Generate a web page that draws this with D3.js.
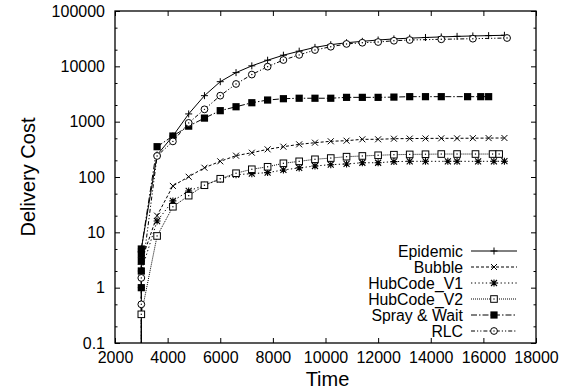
<!DOCTYPE html>
<html>
<head>
<meta charset="utf-8">
<script src="https://cdn.jsdelivr.net/npm/d3@7"></script>
<style>
  body { margin: 0; background: #fff; }
  svg { display: block; font-family: "Liberation Sans", Arial, sans-serif; }
</style>
</head>
<body>
<div id="chart"></div>
<script>
// Delivery cost over time, log scale, six routing schemes.

const epidemicTime = [3000, 3000, 3000, 3600, 4200, 4800, 5400, 6000, 6600, 7200, 7800, 8400, 9000, 9600, 10200, 10800, 11400, 12000, 12600, 13200, 13800, 14400, 15000, 15600, 16200, 16800];
const epidemicCost = [0.01, 1, 5, 250, 550, 1380, 2950, 5280, 7700, 10200, 12900, 15900, 18800, 22000, 24600, 26700, 28300, 29900, 31300, 32300, 33200, 34000, 34800, 35400, 35900, 36400];

const bubbleTime = [3000, 3000, 3600, 4200, 4800, 5400, 6000, 6600, 7200, 7800, 8400, 9000, 9600, 10200, 10800, 11400, 12000, 12600, 13200, 13800, 14400, 15000, 15600, 16200, 16800];
const bubbleCost = [0.01, 3, 20, 69, 101, 147, 192, 243, 275, 316, 353, 389, 417, 442, 453, 480, 480, 492, 495, 498, 500, 500, 503, 505, 507];

const hub1Time = [3000, 3000, 3600, 4200, 4800, 5400, 6000, 6600, 7200, 7800, 8400, 9000, 9600, 10200, 10800, 11400, 12000, 12600, 13200, 13800, 14650, 15000, 15800, 16400, 16800];
const hub1Cost = [0.01, 2, 16, 37, 56, 71, 91, 110, 115, 120, 134, 146, 158, 167, 172, 181, 181, 190, 192, 192, 192, 192, 192, 192, 193];

const hub2Time = [3000, 3000, 3600, 4200, 4800, 5400, 6000, 6600, 7200, 7800, 8400, 9000, 9600, 10200, 10800, 11400, 12000, 12600, 13200, 13800, 14400, 15000, 15700, 16350, 16600];
const hub2Cost = [0.01, 0.33, 8.6, 29, 46, 71, 93, 117, 138, 153, 177, 192, 209, 220, 233, 240, 247, 253, 256, 258, 260, 260, 260, 260, 260];

const sprayTime = [3000, 3000, 3000, 3000, 3000, 3000, 3600, 4200, 4800, 5400, 6000, 6600, 7200, 7800, 8400, 9000, 9600, 10200, 10800, 11400, 12000, 12600, 13200, 13800, 14400, 15400, 15900, 16200];
const sprayCost = [0.01, 1, 2, 3, 4, 5, 353, 550, 830, 1160, 1580, 1860, 2200, 2460, 2600, 2650, 2650, 2650, 2750, 2750, 2750, 2780, 2830, 2830, 2830, 2830, 2830, 2830];

const rlcTime = [3000, 3000, 3000, 3600, 4200, 4800, 5400, 6000, 6600, 7200, 7800, 8400, 9000, 9600, 10200, 10800, 11400, 12000, 12600, 13200, 14400, 15600, 16900];
const rlcCost = [0.01, 0.5, 1.5, 240, 440, 950, 1670, 2950, 4800, 7100, 9860, 13000, 16100, 19700, 22600, 25400, 26700, 27500, 29000, 29900, 30800, 31600, 32500];

const xTicks = [2000, 4000, 6000, 8000, 10000, 12000, 14000, 16000, 18000];
const yTicks = [0.1, 1, 10, 100, 1000, 10000, 100000];

const seriesNames = ["Epidemic", "Bubble", "HubCode_V1", "HubCode_V2", "Spray & Wait", "RLC"];

const W = 566, H = 389;
const margin = { top: 11, right: 30, bottom: 46, left: 115 };
const iw = W - margin.left - margin.right;
const ih = H - margin.top - margin.bottom;

const x = d3.scaleLinear().domain([2000, 18000]).range([0, iw]);
const y = d3.scaleLog().domain([0.1, 100000]).range([ih, 0]);

const series = [
  { name: seriesNames[0], t: epidemicTime, v: epidemicCost, dash: null, mark: "plus" },
  { name: seriesNames[1], t: bubbleTime, v: bubbleCost, dash: "3,2", mark: "cross" },
  { name: seriesNames[2], t: hub1Time, v: hub1Cost, dash: "1.3,2.4", mark: "star" },
  { name: seriesNames[3], t: hub2Time, v: hub2Cost, dash: "1,1", mark: "box" },
  { name: seriesNames[4], t: sprayTime, v: sprayCost, dash: "6,2,1.5,2", mark: "fbox" },
  { name: seriesNames[5], t: rlcTime, v: rlcCost, dash: "4,2,1.2,2,1.2,2", mark: "circle" }
];

const svg = d3.select("#chart").append("svg").attr("width", W).attr("height", H);
const g = svg.append("g").attr("transform", `translate(${margin.left},${margin.top})`);

svg.append("defs").append("clipPath").attr("id", "plotclip")
  .append("rect").attr("width", iw).attr("height", ih);

// draw a marker of a given kind into selection at (0,0)
function drawMark(sel, kind) {
  const s = 3.5;
  if (kind === "plus") {
    sel.append("path").attr("d", `M${-s},0H${s}M0,${-s}V${s}`)
      .attr("stroke", "#000").attr("stroke-width", 1).attr("fill", "none");
  } else if (kind === "cross") {
    sel.append("path").attr("d", `M${-3},${-3}L3,3M${-3},3L3,${-3}`)
      .attr("stroke", "#000").attr("stroke-width", 1).attr("fill", "none");
  } else if (kind === "star") {
    sel.append("path").attr("d", `M-3,-3L3,3M-3,3L3,-3M-3.5,0H3.5M0,-3.5V3.5`)
      .attr("stroke", "#000").attr("stroke-width", 1.1).attr("fill", "none");
  } else if (kind === "box") {
    sel.append("rect").attr("x", -3.3).attr("y", -3.3).attr("width", 6.6).attr("height", 6.6)
      .attr("fill", "#fff").attr("stroke", "#000").attr("stroke-width", 1);
    sel.append("rect").attr("x", -0.6).attr("y", -0.6).attr("width", 1.2).attr("height", 1.2).attr("fill", "#000");
  } else if (kind === "fbox") {
    sel.append("rect").attr("x", -3.6).attr("y", -3.6).attr("width", 7.2).attr("height", 7.2)
      .attr("fill", "#000");
  } else if (kind === "circle") {
    sel.append("circle").attr("r", 3.4).attr("fill", "#fff").attr("stroke", "#000").attr("stroke-width", 1);
    sel.append("circle").attr("r", 0.7).attr("fill", "#000");
  }
}

// axes (gnuplot style: ticks inside, mirrored)
const tickFont = "16px";
const minorVals = [];
yTicks.slice(0, -1).forEach(v => { minorVals.push(v * 2, v * 5); });

g.append("g").attr("transform", `translate(0,${ih})`)
  .call(d3.axisBottom(x).tickValues(xTicks).tickSize(-5).tickPadding(9).tickFormat(d3.format("d")))
  .call(a => a.select(".domain").remove())
  .call(a => a.selectAll("text").attr("font-size", tickFont).attr("fill", "#000").attr("font-family", "Liberation Sans, Arial, sans-serif"));

g.append("g")
  .call(d3.axisTop(x).tickValues(xTicks).tickSize(-5).tickFormat(""))
  .call(a => a.select(".domain").remove());

g.append("g")
  .call(d3.axisLeft(y).tickValues(yTicks).tickSize(-5).tickPadding(10).tickFormat(d => d3.format("~g")(d)))
  .call(a => a.select(".domain").remove())
  .call(a => a.selectAll("text").attr("font-size", tickFont).attr("fill", "#000").attr("font-family", "Liberation Sans, Arial, sans-serif"));

g.append("g")
  .call(d3.axisLeft(y).tickValues(minorVals).tickSize(-2.5).tickFormat(""))
  .call(a => a.select(".domain").remove());

g.append("g").attr("transform", `translate(${iw},0)`)
  .call(d3.axisRight(y).tickValues(yTicks).tickSize(-5).tickFormat(""))
  .call(a => a.select(".domain").remove());

g.append("g").attr("transform", `translate(${iw},0)`)
  .call(d3.axisRight(y).tickValues(minorVals).tickSize(-2.5).tickFormat(""))
  .call(a => a.select(".domain").remove());

g.selectAll(".tick line").attr("stroke", "#000").attr("stroke-width", 1);

// data
const plot = g.append("g").attr("clip-path", "url(#plotclip)");
const line = d3.line().x(d => x(d[0])).y(d => y(d[1]));

series.forEach(s => {
  const pts = s.t.map((t, i) => [t, s.v[i]]);
  plot.append("path")
    .datum(pts)
    .attr("d", line)
    .attr("fill", "none")
    .attr("stroke", "#000")
    .attr("stroke-width", 1)
    .attr("stroke-dasharray", s.dash);
});

series.forEach(s => {
  const pts = s.t.map((t, i) => [t, s.v[i]]);
  plot.selectAll(null).data(pts).enter().append("g")
    .attr("transform", d => `translate(${x(d[0])},${y(d[1])})`)
    .each(function () { drawMark(d3.select(this), s.mark); });
});

// border
g.append("rect").attr("width", iw).attr("height", ih)
  .attr("fill", "none").attr("stroke", "#000").attr("stroke-width", 1.3);

// legend
const legend = g.append("g").attr("transform", `translate(${463 - margin.left},${251 - margin.top})`);
series.forEach((s, i) => {
  const row = legend.append("g").attr("transform", `translate(0,${i * 16})`);
  row.append("text").attr("text-anchor", "end").attr("dy", "0.36em")
    .attr("font-size", "15.8px").text(s.name);
  row.append("line").attr("x1", 8).attr("x2", 54).attr("y1", 0).attr("y2", 0)
    .attr("stroke", "#000").attr("stroke-width", 1).attr("stroke-dasharray", s.dash);
  const m = row.append("g").attr("transform", "translate(31,0)");
  drawMark(m, s.mark);
});

// axis titles
svg.append("text").attr("x", margin.left + iw / 2 + 2).attr("y", 386)
  .attr("text-anchor", "middle").attr("font-size", "20px").text("Time");
svg.append("text").attr("transform", `translate(35,${margin.top + ih / 2}) rotate(-90)`)
  .attr("text-anchor", "middle").attr("font-size", "20px").text("Delivery Cost");
</script>
</body>
</html>
